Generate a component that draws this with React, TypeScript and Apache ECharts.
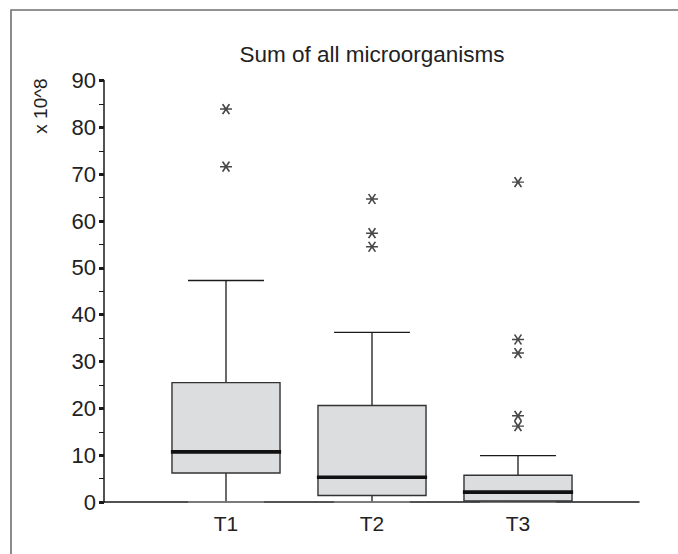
import React, { useEffect, useRef } from "react";
import * as echarts from "echarts";

const categories = ["T1", "T2", "T3"];
// [min, Q1, median, Q3, max] (x 10^8)
const boxStats = [
  [0, 6.2, 10.7, 25.5, 47.3],
  [0, 1.4, 5.3, 20.6, 36.2],
  [0, 0.2, 2.1, 5.7, 9.9],
];
const outliersT1 = [83.9, 71.6];
const outliersT2 = [64.7, 57.4, 54.5];
const outliersT3 = [68.3, 34.7, 31.8, 18.4, 16.2];
const yTicks = [0, 10, 20, 30, 40, 50, 60, 70, 80, 90];

const FONT = "'Liberation Sans', Arial, Helvetica, sans-serif";

export default function App() {
  const ref = useRef<HTMLDivElement>(null);
  useEffect(() => {
    document.body.style.margin = "0";
    if (!ref.current) return;
    const chart = echarts.init(ref.current, null, { renderer: "svg" });

    const outlierData: number[][] = [];
    [outliersT1, outliersT2, outliersT3].forEach((arr, i) =>
      arr.forEach((v) => outlierData.push([i, v]))
    );
    const boxData = boxStats.map((s, i) => [i, ...s]);

    const top = 80.5;
    const bottom = 52;

    chart.setOption({
      animation: false,
      backgroundColor: "#fff",
      title: {
        text: "Sum of all microorganisms",
        left: 367,
        textAlign: "center",
        top: 38,
        textStyle: { fontFamily: FONT, fontSize: 22.5, fontWeight: "normal", color: "#222" },
      },
      graphic: [
        {
          type: "polyline",
          shape: { points: [[11, 600], [11, 10], [720, 10]] },
          style: { fill: "none", stroke: "#6f6f6f", lineWidth: 1.6 },
          silent: true,
        },
        {
          type: "text",
          x: 40,
          y: 106,
          rotation: Math.PI / 2,
          style: {
            text: "x 10^8",
            fontFamily: FONT,
            fontSize: 19,
            fill: "#222",
            align: "center",
            verticalAlign: "middle",
          },
        },
      ],
      grid: [
        { left: 104, right: 39, top, bottom },
        { left: 153, right: 87, top, bottom },
      ],
      xAxis: [
        {
          gridIndex: 0,
          type: "value",
          min: 0,
          max: 1,
          axisLine: { show: true, lineStyle: { color: "#1a1a1a", width: 1.5 } },
          axisTick: { show: false },
          axisLabel: { show: false },
          splitLine: { show: false },
        },
        {
          gridIndex: 1,
          type: "category",
          data: categories,
          axisLine: { show: false },
          axisTick: { show: false },
          axisLabel: { fontFamily: FONT, fontSize: 21, color: "#222", margin: 11 },
          splitLine: { show: false },
        },
      ],
      yAxis: [
        {
          gridIndex: 0,
          type: "value",
          min: yTicks[0],
          max: yTicks[yTicks.length - 1],
          interval: 10,
          axisLine: { show: true, lineStyle: { color: "#1a1a1a", width: 1.5 } },
          axisTick: { show: true, inside: false, length: 5, lineStyle: { color: "#1a1a1a", width: 3 } },
          minorTick: { show: true, splitNumber: 2, length: 5, lineStyle: { color: "#1a1a1a", width: 1 } },
          axisLabel: { fontFamily: FONT, fontSize: 22, color: "#222", margin: 8 },
          splitLine: { show: false },
          minorSplitLine: { show: false },
        },
        {
          gridIndex: 1,
          type: "value",
          min: yTicks[0],
          max: yTicks[yTicks.length - 1],
          show: false,
          splitLine: { show: false },
        },
      ],
      series: [
        {
          type: "custom",
          xAxisIndex: 1,
          yAxisIndex: 1,
          data: boxData,
          encode: { x: 0, y: [1, 2, 3, 4, 5] },
          renderItem: (params: any, api: any) => {
            const c = api.value(0);
            const band = api.size([1, 0])[0];
            const pMin = api.coord([c, api.value(1)]);
            const pQ1 = api.coord([c, api.value(2)]);
            const pMed = api.coord([c, api.value(3)]);
            const pQ3 = api.coord([c, api.value(4)]);
            const pMax = api.coord([c, api.value(5)]);
            const cx = pMed[0];
            const bw = band * 0.74;
            const cw = band * 0.52;
            const mw = band * 0.755;
            const lineStyle = { stroke: "#1a1a1a", lineWidth: 1.3 };
            return {
              type: "group",
              children: [
                { type: "line", shape: { x1: cx, y1: pMax[1], x2: cx, y2: pQ3[1] }, style: lineStyle },
                { type: "line", shape: { x1: cx, y1: pQ1[1], x2: cx, y2: pMin[1] }, style: lineStyle },
                { type: "line", shape: { x1: cx - cw / 2, y1: pMax[1], x2: cx + cw / 2, y2: pMax[1] }, style: lineStyle },
                { type: "line", shape: { x1: cx - cw / 2, y1: pMin[1], x2: cx + cw / 2, y2: pMin[1] }, style: { stroke: "#888", lineWidth: 1.3 } },
                {
                  type: "rect",
                  shape: { x: cx - bw / 2, y: pQ3[1], width: bw, height: pQ1[1] - pQ3[1] },
                  style: { fill: "#dcdddf", stroke: "#333", lineWidth: 1.4 },
                },
                {
                  type: "line",
                  shape: { x1: cx - mw / 2, y1: pMed[1], x2: cx + mw / 2, y2: pMed[1] },
                  style: { stroke: "#111", lineWidth: 3.6 },
                },
              ],
            };
          },
          z: 3,
        },
        {
          type: "scatter",
          xAxisIndex: 1,
          yAxisIndex: 1,
          data: outlierData,
          symbol: "path://M0,5H12M2.6,0L9.4,10M9.4,0L2.6,10",
          symbolSize: [12, 10],
          itemStyle: { color: "transparent", borderColor: "#1a1a1a", borderWidth: 1.6 },
          z: 4,
        },
      ],
    });
    return () => chart.dispose();
  }, []);
  return <div ref={ref} style={{ width: 678, height: 554 }} />;
}
